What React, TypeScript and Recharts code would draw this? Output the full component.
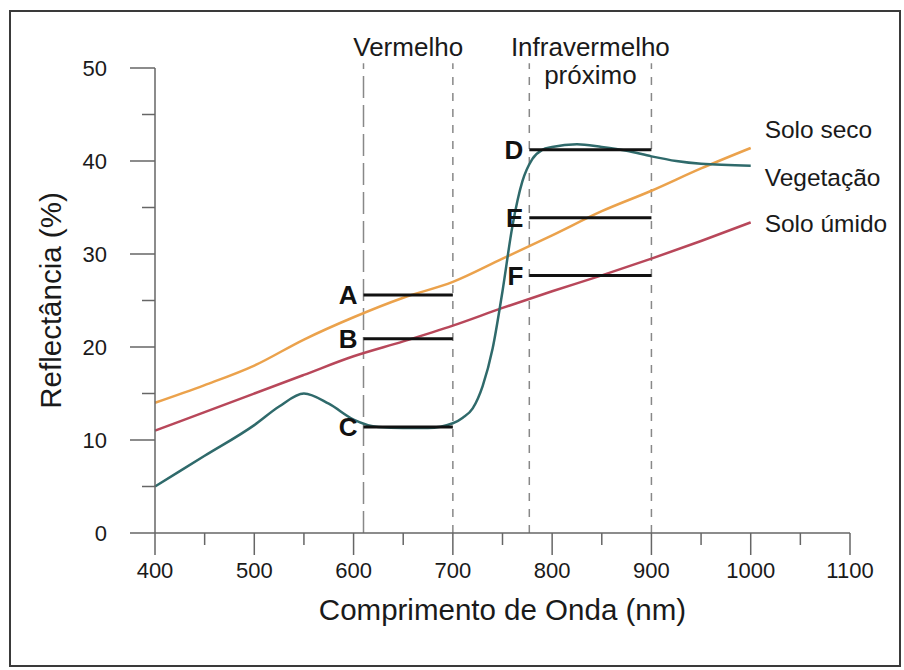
import React from "react";
import { LineChart, Line, XAxis, YAxis, ReferenceLine, ReferenceDot } from "recharts";

// wavelength (nm) and reflectance (%)
const soloSecoNm = [400, 450, 500, 550, 600, 650, 700, 750, 800, 850, 900, 950, 1000];
const soloSeco = [14, 15.9, 18, 20.8, 23.2, 25.3, 27, 29.5, 32, 34.6, 36.8, 39.2, 41.4];

const soloUmidoNm = [400, 450, 500, 550, 600, 650, 700, 750, 800, 850, 900, 950, 1000];
const soloUmido = [11, 13, 15, 17, 19, 20.6, 22.3, 24.2, 26, 27.7, 29.5, 31.4, 33.4];

const vegetacaoNm = [400, 450, 500, 525, 550, 575, 600, 625, 650, 675, 700, 710, 720, 730, 740, 750, 760, 770, 780, 790, 800, 825, 850, 875, 900, 925, 950, 1000];
const vegetacao = [5, 8.3, 11.6, 13.6, 15, 13.9, 12.2, 11.4, 11.3, 11.3, 11.8, 12.4, 13.4, 15.8, 19.8, 26, 33, 37.8, 40.2, 41.2, 41.5, 41.8, 41.5, 41.1, 40.5, 40, 39.7, 39.5];

const xTicks = [400, 450, 500, 550, 600, 650, 700, 750, 800, 850, 900, 950, 1000, 1050, 1100];
const yTicks = [0, 5, 10, 15, 20, 25, 30, 35, 40, 45, 50];

// spectral bands (dashed limits)
const vermelhoBand = [610, 700];
const infraBand = [777, 900];

const redLetters = ["A", "B", "C"];
const redLevels = [25.6, 20.9, 11.4];
const nirLetters = ["D", "E", "F"];
const nirLevels = [41.2, 33.9, 27.7];

const seriesNames = ["Solo seco", "Vegetação", "Solo úmido"];
const seriesLabelY = [43.4, 38.2, 33.3];

const toRows = (nm: number[], v: number[]) => nm.map((n, i) => ({ nm: n, v: v[i] }));

const FONT = "'Liberation Sans', Arial, sans-serif";
const AXIS = "#666";
const INK = "#1a1a1a";

const XTick = (props: any) => {
  const { x, y, payload } = props;
  const major = payload.value % 100 === 0;
  return (
    <g>
      <line x1={x} x2={x} y1={y} y2={y + (major ? 22 : 12)} stroke={AXIS} strokeWidth={1.5} />
      {major && (
        <text x={x} y={y + 45} textAnchor="middle" fontSize={22} fill={INK} fontFamily={FONT}>
          {payload.value}
        </text>
      )}
    </g>
  );
};

const YTick = (props: any) => {
  const { x, y, payload } = props;
  const major = payload.value % 10 === 0;
  return (
    <g>
      <line x1={x - (major ? 25 : 13)} x2={x} y1={y} y2={y} stroke={AXIS} strokeWidth={1.5} />
      {major && (
        <text x={x - 48} y={y + 8} textAnchor="end" fontSize={22} fill={INK} fontFamily={FONT}>
          {payload.value}
        </text>
      )}
    </g>
  );
};

const bandText = { fontSize: 26, fill: INK, fontFamily: FONT };
const seriesText = { fontSize: 24.5, fill: INK, fontFamily: FONT };
const letterText = { fontSize: 26, fontWeight: "bold", fill: "#111", fontFamily: FONT };

export default function App() {
  const seco = toRows(soloSecoNm, soloSeco);
  const umido = toRows(soloUmidoNm, soloUmido);
  const veg = toRows(vegetacaoNm, vegetacao);

  return (
    <div style={{ position: "absolute", left: 0, top: 0, width: 904, height: 670, background: "#fff" }}>
      <div
        style={{
          position: "absolute",
          left: 9,
          top: 10,
          width: 892,
          height: 657,
          boxSizing: "border-box",
          border: "2px solid #3a3a3a",
        }}
      />
      <div style={{ position: "absolute", left: 0, top: 0 }}>
        <LineChart width={904} height={670} margin={{ top: 68, right: 54, left: 35, bottom: 77 }}>
          <XAxis
            type="number"
            dataKey="nm"
            domain={[400, 1100]}
            ticks={xTicks}
            interval={0}
            tickSize={0}
            tickMargin={0}
            tick={XTick}
            axisLine={{ stroke: AXIS, strokeWidth: 1.5 }}
            tickLine={false}
            height={60}
            allowDuplicatedCategory={false}
            label={{ value: "Comprimento de Onda (nm)", position: "bottom", offset: 6, fontSize: 29.5, fill: INK, fontFamily: FONT }}
          />
          <YAxis
            type="number"
            domain={[0, 50]}
            ticks={yTicks}
            interval={0}
            tickSize={0}
            tickMargin={0}
            tick={YTick}
            axisLine={{ stroke: AXIS, strokeWidth: 1.5 }}
            tickLine={false}
            width={120}
            label={{
              value: "Reflectância (%)",
              angle: -90,
              position: "insideLeft",
              offset: 16,
              fontSize: 29.5,
              fill: INK,
              fontFamily: FONT,
              style: { textAnchor: "middle" },
            }}
          />

          {/* band limits */}
          <ReferenceLine segment={[{ x: vermelhoBand[0], y: 0 }, { x: vermelhoBand[0], y: 50.5 }]} stroke="#888" strokeWidth={1.5} strokeDasharray="22 7" ifOverflow="visible" />
          <ReferenceLine segment={[{ x: vermelhoBand[1], y: 0 }, { x: vermelhoBand[1], y: 50.5 }]} stroke="#888" strokeWidth={1.5} strokeDasharray="8 8" ifOverflow="visible" />
          <ReferenceLine segment={[{ x: infraBand[0], y: 0 }, { x: infraBand[0], y: 50.5 }]} stroke="#888" strokeWidth={1.5} strokeDasharray="8 8" ifOverflow="visible" />
          <ReferenceLine segment={[{ x: infraBand[1], y: 0 }, { x: infraBand[1], y: 50.5 }]} stroke="#888" strokeWidth={1.5} strokeDasharray="8 8" ifOverflow="visible" />

          <ReferenceDot x={(vermelhoBand[0] + vermelhoBand[1]) / 2} y={52.3} r={0} fill="none" stroke="none" ifOverflow="visible" label={{ value: "Vermelho", position: "center", ...bandText }} />
          <ReferenceDot x={(infraBand[0] + infraBand[1]) / 2} y={52.3} r={0} fill="none" stroke="none" ifOverflow="visible" label={{ value: "Infravermelho", position: "center", ...bandText }} />
          <ReferenceDot x={(infraBand[0] + infraBand[1]) / 2} y={49.3} r={0} fill="none" stroke="none" ifOverflow="visible" label={{ value: "próximo", position: "center", ...bandText }} />

          <Line data={seco} dataKey="v" type="monotone" stroke="#eba24c" strokeWidth={2.5} dot={false} isAnimationActive={false} />
          <Line data={umido} dataKey="v" type="monotone" stroke="#b8475a" strokeWidth={2.5} dot={false} isAnimationActive={false} />
          <Line data={veg} dataKey="v" type="monotone" stroke="#2f6a6b" strokeWidth={2.5} dot={false} isAnimationActive={false} />

          {redLetters.map((l, i) => (
            <ReferenceLine
              key={l}
              segment={[{ x: vermelhoBand[0], y: redLevels[i] }, { x: vermelhoBand[1], y: redLevels[i] }]}
              stroke="#111"
              strokeWidth={3}
              label={{ value: l, position: "left", offset: 6, ...letterText }}
            />
          ))}
          {nirLetters.map((l, i) => (
            <ReferenceLine
              key={l}
              segment={[{ x: infraBand[0], y: nirLevels[i] }, { x: infraBand[1], y: nirLevels[i] }]}
              stroke="#111"
              strokeWidth={3}
              label={{ value: l, position: "left", offset: 6, ...letterText }}
            />
          ))}

          {seriesNames.map((s, i) => (
            <ReferenceDot key={s} x={1010} y={seriesLabelY[i]} r={0} fill="none" stroke="none" ifOverflow="visible" label={{ value: s, position: "right", offset: 4, ...seriesText }} />
          ))}
        </LineChart>
      </div>
    </div>
  );
}
